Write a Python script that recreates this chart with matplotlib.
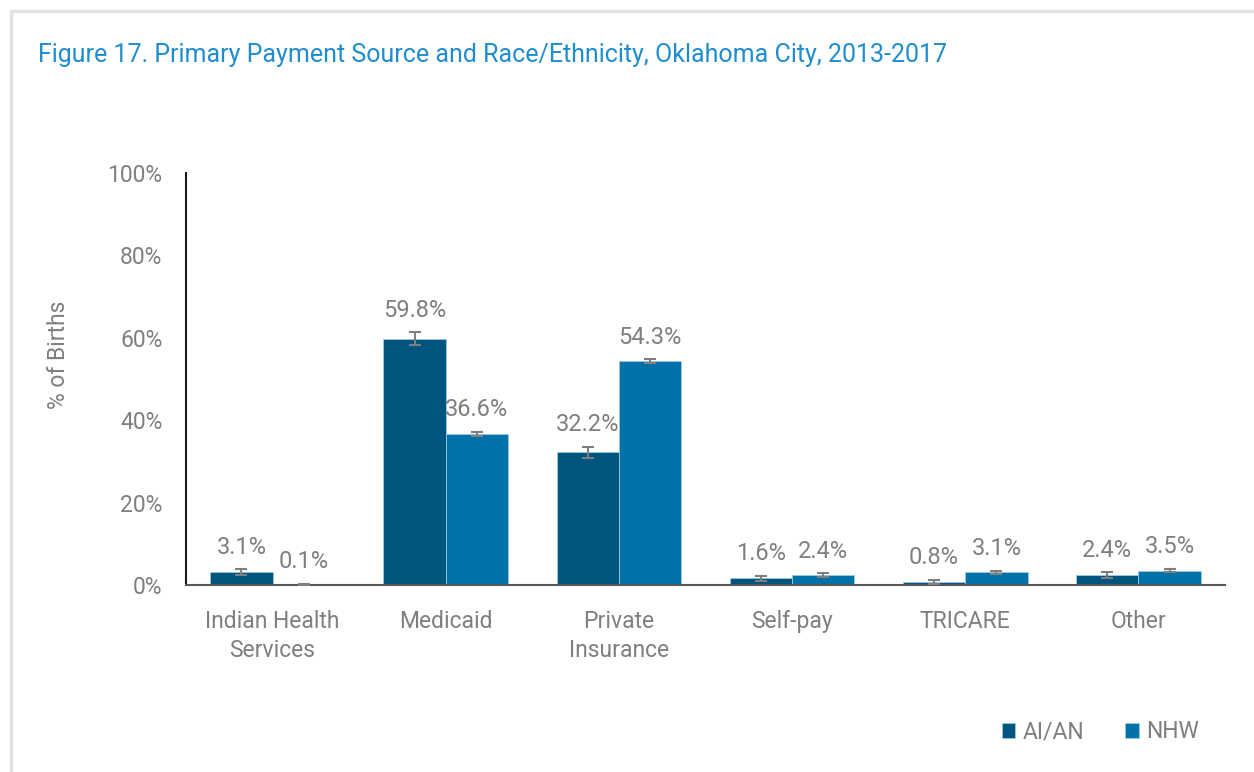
import matplotlib.pyplot as plt
import numpy as np
from matplotlib.patches import Rectangle

categories = ["Indian Health\nServices", "Medicaid", "Private\nInsurance",
              "Self-pay", "TRICARE", "Other"]
aian = [3.1, 59.8, 32.2, 1.6, 0.8, 2.4]
nhw = [0.1, 36.6, 54.3, 2.4, 3.1, 3.5]
aian_err = [0.7, 1.5, 1.4, 0.6, 0.5, 0.65]
nhw_err = [0.1, 0.5, 0.5, 0.4, 0.35, 0.35]
series_names = ["AI/AN", "NHW"]

DARK = "#00557F"
LIGHT = "#0072A8"
GRAY = "#7F7F7F"
TITLE = "#1F8DD0"
FS = 16.5

plt.rcParams['font.family'] = ['Roboto', 'DejaVu Sans']

fig = plt.figure(figsize=(12.54, 7.72), dpi=100)
fig.patches.append(Rectangle((11 / 1254, -0.01), 1.0, 772 / 772 - 11 / 772 + 0.01,
                             transform=fig.transFigure, fill=False,
                             edgecolor="#E3E3E3", linewidth=2.5))

ax = fig.add_axes([186 / 1254, 187 / 772, 1039 / 1254, 412 / 772])

x = np.arange(len(categories))
w = 0.36
for vals, errs, off, col, name in [(aian, aian_err, -w / 2, DARK, series_names[0]),
                                   (nhw, nhw_err, w / 2, LIGHT, series_names[1])]:
    ax.bar(x + off, vals, w, color=col, edgecolor="#9CCBE6", linewidth=0.6,
           label=name, zorder=2)
    ax.errorbar(x + off, vals, yerr=errs, fmt="none", ecolor=GRAY,
                elinewidth=1.5, capsize=4, capthick=1.5, zorder=3)
    for xi, v, e in zip(x + off, vals, errs):
        ax.annotate(f"{v:.1f}%", (xi, v + e), xytext=(0, 16),
                    textcoords="offset points", ha="center", va="center",
                    fontsize=17, color=GRAY)

ax.set_xlim(-0.5, len(categories) - 0.5)
ax.set_ylim(0, 100)
ax.set_yticks(range(0, 101, 20))
ax.set_yticklabels([f"{t}%" for t in range(0, 101, 20)])
ax.set_xticks(x)
ax.set_xticklabels(categories, linespacing=1.35)
ax.tick_params(axis="both", length=0, labelsize=FS, labelcolor=GRAY)
ax.tick_params(axis="y", pad=17)
ax.tick_params(axis="x", pad=18)
for s in ["top", "right"]:
    ax.spines[s].set_visible(False)
ax.spines["left"].set_color("#1A1A1A")
ax.spines["left"].set_linewidth(1.5)
ax.spines["bottom"].set_color("#595959")
ax.spines["bottom"].set_linewidth(1.5)
ax.set_ylabel("% of Births", fontsize=FS, color=GRAY)
ax.yaxis.set_label_coords(70 / 1254, 1 - 355 / 772, transform=fig.transFigure)

fig.text(38 / 1254, 1 - 55 / 772, "Figure 17. Primary Payment Source and Race/Ethnicity, Oklahoma City, 2013-2017",
         fontsize=18, color=TITLE, va="center", ha="left")

ax.legend(loc="center", bbox_to_anchor=(1100 / 1254, 1 - 732 / 772),
          bbox_transform=fig.transFigure, ncol=2, frameon=False,
          fontsize=FS, labelcolor=GRAY, handlelength=0.6, handleheight=0.6,
          handletextpad=0.3, columnspacing=1.8)

fig.savefig("out.png", dpi=100)
